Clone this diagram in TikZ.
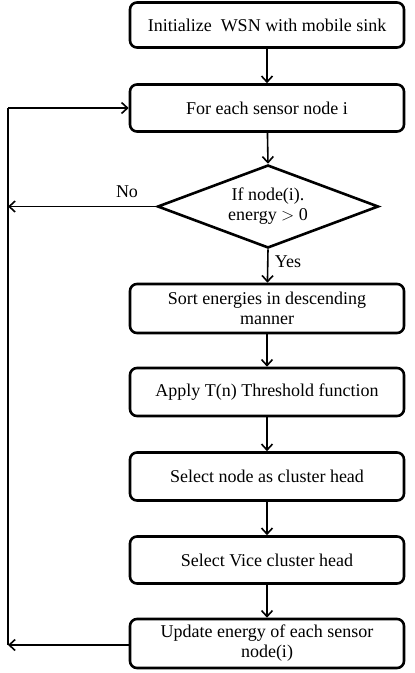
\documentclass[tikz,border=0pt]{standalone}
\usepackage{fontspec}
\setmainfont{Liberation Serif}
\usetikzlibrary{shapes.geometric,arrows.meta}
\begin{document}
\begin{tikzpicture}[x=1pt,y=-1pt,
  box/.style={draw,line width=2.6pt,rounded corners=7pt,minimum width=274pt,align=center,inner sep=0pt,font=\fontsize{18}{20}\selectfont},
  dec/.style={draw,line width=2.6pt,diamond,aspect=2.62,minimum width=221pt,minimum height=83pt,inner sep=0pt,align=center,font=\fontsize{18}{20}\selectfont},
  arr/.style={line width=1.6pt,-{Straight Barb[length=6pt,width=11pt,line width=1.6pt]}},
  lbl/.style={font=\fontsize{18}{20}\selectfont,inner sep=0pt}]
\useasboundingbox (0,0) rectangle (415,673);
\node[box,minimum height=45pt] (b1) at (267,25) {Initialize~ WSN with mobile sink};
\node[box,minimum height=47pt] (b2) at (267,108) {For each sensor node i};
\node[dec] (d) at (268,206.5) {If node(i).\\energy $>$ 0};
\node[box,minimum height=49pt] (b3) at (267,308.5) {Sort energies in descending\\manner};
\node[box,minimum height=48pt] (b4) at (267,392) {Apply T(n) Threshold function};
\node[box,minimum height=48pt] (b5) at (267,476.5) {Select node as cluster head};
\node[box,minimum height=47pt] (b6) at (267,560) {Select Vice cluster head};
\node[box,minimum height=49pt] (b7) at (267,643.5) {Update energy of each sensor\\node(i)};
\coordinate (lb) at (8,645);
\coordinate (lt) at (8,108);
\coordinate (ln) at (8,206.5);
\draw[arr] (b1) -- (b2);
\draw[arr] (b2) -- (d.north);
\draw[arr] (d.south) -- (b3);
\draw[arr] (b3) -- (b4);
\draw[arr] (b4) -- (b5);
\draw[arr] (b5) -- (b6);
\draw[arr] (b6) -- (b7);
\draw[arr] (b7.west |- lb) -- (lb);
\draw[arr] (d.west) -- (ln);
\draw[line width=1.6pt] (lb) -- (lt);
\draw[arr] (lt) -- (b2.west);
\node[lbl] (no) at (127,192) {No};
\node[lbl] (yes) at (288,262) {Yes};
\end{tikzpicture}
\end{document}
